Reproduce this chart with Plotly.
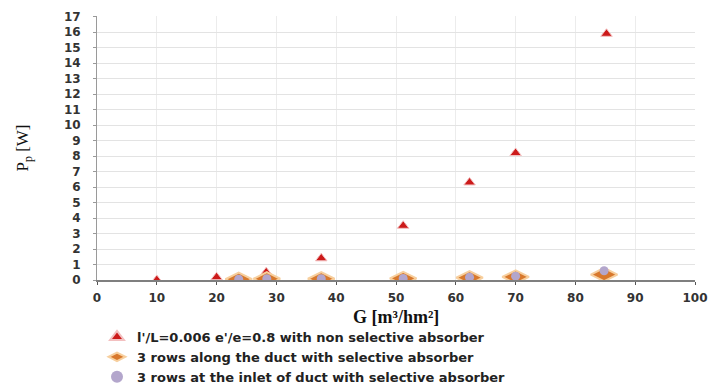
import plotly.graph_objects as go

g_tri = [10, 20, 28.3, 37.5, 51.2, 62.3, 70, 85.2]
p_tri = [0.0, 0.18, 0.5, 1.4, 3.5, 6.3, 8.2, 15.9]

g_dia = [23.7, 28.4, 37.5, 51.2, 62.3, 70, 84.8]
p_dia = [0.05, 0.08, 0.08, 0.1, 0.15, 0.2, 0.35]

g_cir = [23.7, 28.4, 37.5, 51.2, 62.3, 70, 84.8]
p_cir = [0.05, 0.08, 0.08, 0.1, 0.17, 0.25, 0.6]

names = [
    "l'/L=0.006 e'/e=0.8 with non selective absorber",
    "3 rows along the duct with selective absorber",
    "3 rows at the inlet of duct with selective absorber",
]
x_title = "<b>G [m³/hm²]</b>"
y_title = "P<sub>p</sub> [W]"

fig = go.Figure()
fig.add_trace(go.Scatter(x=g_tri, y=p_tri, mode="markers", name=names[0],
                         marker=dict(symbol="triangle-up", size=10, color="#cc1a1a",
                                     line=dict(color="#f3c0c0", width=1))))
fig.add_trace(go.Scatter(x=g_dia, y=p_dia, mode="markers", name=names[1],
                         marker=dict(symbol="diamond-wide", size=19, color="#d8782c",
                                     line=dict(color="#f7cf9e", width=2))))
fig.add_trace(go.Scatter(x=g_cir, y=p_cir, mode="markers", name=names[2],
                         marker=dict(symbol="circle", size=9, color="#b3a6cc",
                                     line=dict(width=0))))

tickfont = dict(family="DejaVu Sans", size=12, color="#333333", weight="bold")
fig.update_layout(
    width=720, height=385,
    margin=dict(l=97, r=25, t=16, b=105, autoexpand=False),
    paper_bgcolor="white", plot_bgcolor="white",
    showlegend=True,
    legend=dict(x=0.0, y=(385 - 322) / 385, xref="paper", yref="container",
                xanchor="left", yanchor="top",
                font=dict(family="DejaVu Sans", size=13, color="#222222", weight="bold"),
                tracegroupgap=0, itemwidth=30, itemsizing="constant",
                bgcolor="rgba(0,0,0,0)"),
    xaxis=dict(range=[0, 100], dtick=10, tickfont=tickfont,
               showgrid=True, gridcolor="#ececec", gridwidth=1,
               showline=True, linecolor="#7f7f7f", linewidth=1.5,
               ticks="outside", ticklen=3, tickcolor="#555555",
               ticklabelstandoff=3, zeroline=False),
    yaxis=dict(range=[0, 17.05], dtick=1, tickfont=tickfont,
               showgrid=True, gridcolor="#e3e3e3", gridwidth=1,
               showline=True, linecolor="#9a9a9a", linewidth=1,
               ticks="outside", ticklen=3, tickcolor="#999999",
               ticklabelstandoff=10, zeroline=False,
               title=dict(text=y_title, standoff=30,
                          font=dict(family="Liberation Serif", size=17, color="#111111"))),
    annotations=[dict(text=x_title, xref="paper", yref="paper", x=0.5, y=-0.142,
                      xanchor="center", yanchor="middle", showarrow=False,
                      font=dict(family="Liberation Serif", size=18, color="#111111"))],
)
fig.write_html("out.html")
